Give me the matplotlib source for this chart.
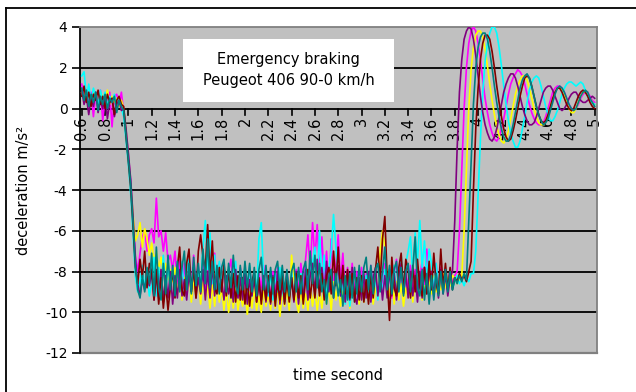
import numpy as np
import matplotlib
matplotlib.use("Agg")
import matplotlib.pyplot as plt
from matplotlib.patches import Rectangle
from matplotlib.lines import Line2D

plt.rcParams['font.family'] = ['DejaVu Sans']
plt.rcParams['axes.unicode_minus'] = False

# time grid (s), 0.6 .. 5.0 every 0.02 s
time_s = np.round(0.6 + 0.02 * np.arange(221), 2)

magenta = [
    1.2, 0.6, 0.9, 0.2, 0.8, -0.4, 0.7, 0.3, 0.9, -0.6,
    0.5, 0.1, 0.8, -0.9, 0.6, 0.7, 0.2, 0.8, -0.2, -1.1,
    -2.3, -3.6, -5.4, -7.2, -8.0, -7.1, -6.3, -6.0, -7.0, -6.2,
    -5.9, -6.6, -4.4, -6.3, -6.0, -7.0, -6.1, -7.5, -7.2, -7.9,
    -7.0, -8.6, -7.4, -8.9, -7.6, -9.0, -7.8, -8.7, -7.2, -8.8,
    -7.7, -9.0, -7.5, -8.8, -7.9, -9.2, -8.0, -7.1, -8.9, -7.6,
    -8.9, -7.7, -9.2, -8.0, -7.4, -9.0, -8.1, -9.3, -7.8, -8.8,
    -7.9, -9.2, -7.8, -9.0, -8.3, -9.4, -8.1, -8.8, -7.7, -9.1,
    -8.2, -9.3, -8.0, -9.1, -7.8, -9.0, -8.4, -9.4, -8.0, -9.2,
    -8.0, -9.2, -7.9, -9.0, -7.6, -8.8, -7.4, -6.2, -8.0, -5.6,
    -7.4, -5.7, -8.1, -6.3, -8.4, -7.0, -8.8, -6.4, -8.9, -7.7,
    -6.2, -8.5, -7.1, -9.0, -7.8, -8.9, -7.6, -9.1, -8.0, -9.2,
    -7.8, -9.3, -8.1, -9.0, -7.7, -8.9, -8.2, -9.2, -7.9, -8.8,
    -7.6, -9.1, -7.9, -9.3, -8.1, -7.4, -8.9, -7.8, -9.2, -8.0,
    -9.0, -7.7, -9.1, -7.9, -9.2, -8.3, -7.5, -8.9, -6.9, -8.6,
    -8.0, -8.8, -7.6, -9.0, -7.8, -8.7, -8.1, -8.9, -7.9, -8.6,
    -8.2, -8.0, -6.0, -3.0, 0.0, 2.0, 3.2, 3.8, 4.0, 3.8,
    3.2, 2.4, 1.4, 0.5, -0.2, -0.8, -1.2, -1.5, -1.6, -1.4,
    -1.0, -0.5, 0.1, 0.7, 1.2, 1.5, 1.7, 1.9, 1.8, 1.6,
    1.2, 0.7, 0.2, -0.2, -0.5, -0.7, -0.8, -0.8, -0.7, -0.4,
    0.0, 0.4, 0.8, 1.0, 1.1, 1.1, 1.0, 0.8, 0.5, 0.2,
    0.0, -0.1, 0.0, 0.2, 0.5, 0.7, 0.8, 0.8, 0.6, 0.4,
    0.3,
]

yellow = [
    0.8, 1.0, 0.4, 0.7, 0.2, 0.9, 0.5, 0.3, 0.8, 0.6,
    0.4, 0.9, 0.2, 0.6, 0.3, 0.5, 0.1, 0.4, 0.0, -1.1,
    -2.4, -3.8, -5.2, -6.5, -6.2, -5.6, -6.8, -5.9, -6.4, -7.2,
    -6.6, -7.5, -7.0, -7.9, -7.3, -8.2, -7.6, -8.4, -7.9, -8.5,
    -7.8, -9.2, -8.1, -9.4, -8.3, -9.0, -7.9, -9.5, -8.4, -9.3,
    -8.3, -9.6, -8.5, -9.4, -8.7, -9.8, -8.6, -9.7, -8.4, -9.5,
    -8.8, -9.9, -8.9, -10.0, -9.0, -9.8, -8.7, -9.9, -9.1, -9.7,
    -8.9, -10.1, -9.0, -9.8, -8.8, -9.9, -9.2, -10.0, -8.9, -9.7,
    -9.1, -9.9, -8.7, -9.8, -8.6, -10.2, -9.0, -9.7, -8.8, -9.9,
    -7.2, -8.4, -9.5, -10.0, -8.9, -9.8, -9.1, -9.9, -8.8, -9.7,
    -8.9, -9.9, -9.0, -9.8, -8.7, -9.6, -8.8, -9.9, -8.5, -9.4,
    -8.6, -9.7, -8.9, -9.5, -8.4, -9.8, -8.7, -9.3, -8.5, -9.6,
    -8.4, -9.5, -8.6, -9.4, -8.2, -9.6, -8.8, -9.3, -7.0, -6.0,
    -6.8, -8.5, -9.2, -8.3, -9.6, -8.5, -9.4, -8.6, -9.7, -8.8,
    -9.3, -8.3, -9.5, -8.6, -9.2, -8.4, -9.4, -8.7, -9.0, -8.3,
    -9.1, -8.2, -9.0, -8.4, -8.9, -8.1, -8.8, -8.3, -8.7, -8.2,
    -8.3, -8.6, -8.4, -8.2, -6.0, -3.0, 0.0, 1.9, 3.0, 3.6,
    3.8, 3.8, 3.5, 2.9, 2.1, 1.2, 0.4, -0.3, -0.9, -1.3,
    -1.6, -1.7, -1.5, -1.1, -0.5, 0.1, 0.7, 1.1, 1.4, 1.6,
    1.6, 1.4, 1.0, 0.5, 0.0, -0.4, -0.7, -0.8, -0.8, -0.6,
    -0.3, 0.1, 0.5, 0.8, 1.0, 1.0, 0.9, 0.6, 0.3, 0.0,
    -0.2, -0.2, 0.0, 0.3, 0.6, 0.8, 0.8, 0.7, 0.5, 0.3,
    0.2,
]

cyan = [
    1.6, 1.8, 0.5, 1.2, 0.3, 1.0, 0.6, 0.2, 0.9, 0.4,
    0.8, 0.1, 0.6, 0.3, 0.7, 0.2, 0.5, 0.0, -0.4, -1.6,
    -2.8, -4.2, -6.2, -8.2, -9.0, -8.5, -7.7, -8.8, -8.1, -9.2,
    -8.6, -7.3, -9.2, -7.8, -8.9, -7.2, -9.0, -7.6, -8.8, -7.9,
    -9.0, -7.8, -8.8, -7.5, -9.1, -8.0, -7.4, -8.9, -7.7, -9.0,
    -7.9, -8.7, -6.8, -5.5, -7.9, -6.1, -8.6, -7.2, -8.9, -7.5,
    -8.8, -7.6, -9.1, -7.8, -9.3, -8.0, -7.5, -9.0, -7.9, -8.7,
    -7.8, -9.0, -7.7, -9.2, -8.0, -9.1, -6.4, -5.6, -8.3, -9.0,
    -9.2, -8.0, -9.4, -8.1, -9.0, -7.8, -8.9, -9.5, -8.2, -9.1,
    -8.0, -9.3, -8.2, -9.4, -8.1, -9.0, -7.9, -9.1, -8.0, -7.6,
    -6.8, -8.8, -6.0, -8.6, -7.2, -9.1, -7.9, -7.0, -5.2, -6.8,
    -8.2, -9.2, -8.6, -9.6, -8.8, -9.7, -8.9, -9.5, -8.7, -9.3,
    -8.5, -9.4, -8.2, -9.2, -8.0, -9.0, -8.3, -9.4, -8.1, -9.1,
    -7.9, -9.0, -7.8, -9.1, -7.7, -9.2, -8.0, -7.2, -8.8, -7.6,
    -7.0, -6.3, -8.2, -6.1, -7.5, -5.5, -7.8, -6.5, -8.4, -6.9,
    -7.6, -8.9, -7.6, -8.8, -8.0, -9.0, -7.9, -8.8, -8.2, -8.9,
    -8.5, -8.2, -8.6, -8.4, -8.7, -8.3, -8.5, -8.1, -8.1, -7.0,
    -4.3, -1.5, 0.8, 2.3, 3.2, 3.7, 4.0, 4.0, 3.7, 3.0,
    2.1, 1.1, 0.2, -0.6, -1.2, -1.6, -1.9, -1.9, -1.6, -1.0,
    -0.4, 0.3, 0.9, 1.3, 1.5, 1.6, 1.5, 1.1, 0.6, 0.1,
    -0.3, -0.6, -0.6, -0.4, -0.1, 0.3, 0.7, 1.0, 1.2, 1.3,
    1.3, 1.2, 1.1, 1.2, 1.3, 1.2, 0.9, 0.6, 0.4, 0.3,
    0.2,
]

purple = [
    0.9, 0.2, 0.6, -0.3, 0.5, 0.1, 0.8, -0.2, 0.4, 0.0,
    0.6, -0.5, 0.3, 0.5, -0.4, 0.2, 0.4, -0.1, 0.0, -1.0,
    -2.2, -3.5, -5.3, -7.4, -8.6, -9.2, -8.4, -8.9, -8.1, -8.7,
    -8.0, -9.4, -8.1, -9.3, -7.9, -9.5, -8.2, -9.3, -8.0, -9.6,
    -8.2, -9.3, -7.9, -9.2, -8.4, -9.4, -8.1, -9.0, -7.8, -9.3,
    -8.3, -9.1, -7.9, -9.4, -8.0, -9.3, -7.7, -9.2, -8.1, -9.0,
    -8.4, -9.4, -8.2, -9.1, -8.5, -9.5, -7.9, -9.3, -8.3, -9.4,
    -8.1, -9.6, -8.4, -9.2, -8.3, -9.5, -8.6, -9.4, -8.2, -9.5,
    -8.4, -9.6, -8.2, -9.4, -8.0, -9.6, -8.5, -9.5, -8.1, -9.3,
    -8.3, -9.5, -8.0, -9.6, -8.4, -9.3, -7.9, -9.4, -8.2, -7.6,
    -9.1, -7.4, -8.9, -7.8, -9.2, -7.5, -9.0, -7.9, -9.3, -8.1,
    -7.7, -9.2, -8.1, -9.5, -8.2, -9.4, -7.8, -9.2, -9.6, -8.3,
    -9.4, -8.1, -9.3, -8.0, -9.5, -8.3, -7.8, -9.2, -8.1, -9.4,
    -8.2, -9.3, -7.9, -9.2, -8.1, -9.4, -8.3, -7.6, -9.1, -8.1,
    -9.3, -8.0, -9.2, -8.2, -9.5, -8.0, -9.3, -7.8, -9.1, -8.2,
    -8.0, -9.2, -8.1, -9.3, -7.9, -9.1, -8.1, -9.2, -8.3, -8.0,
    -5.5, -2.0, 0.8, 2.4, 3.4, 3.8, 4.0, 3.9, 3.4, 2.6,
    1.6, 0.6, -0.2, -0.8, -1.2, -1.5, -1.6, -1.4, -1.0, -0.4,
    0.2, 0.8, 1.2, 1.5, 1.7, 1.7, 1.5, 1.1, 0.6, 0.1,
    -0.3, -0.6, -0.8, -0.8, -0.7, -0.4, 0.0, 0.4, 0.8, 1.0,
    1.1, 1.1, 0.9, 0.6, 0.3, 0.0, -0.1, 0.0, 0.2, 0.5,
    0.7, 0.8, 0.8, 0.6, 0.4, 0.3, 0.3, 0.4, 0.5, 0.6,
    0.5,
]

darkred = [
    0.6, 1.1, 0.3, 0.8, 0.1, 0.7, 0.4, 0.9, 0.2, 0.6,
    0.0, 0.7, 0.3, 0.5, -0.3, 0.4, 0.6, 0.2, 0.1, -1.4,
    -2.6, -3.9, -5.8, -7.8, -8.6, -7.4, -8.3, -7.0, -8.8, -7.6,
    -8.0, -9.4, -7.9, -9.6, -8.3, -9.8, -8.6, -9.9, -8.8, -8.0,
    -9.3, -7.8, -6.8, -8.9, -9.2, -7.6, -6.9, -9.0, -7.8, -9.3,
    -7.0, -6.2, -7.3, -7.9, -5.7, -8.2, -6.5, -8.8, -9.1, -7.8,
    -9.0, -7.6, -9.2, -7.9, -9.3, -8.1, -9.5, -8.2, -9.4, -8.3,
    -9.6, -8.4, -9.7, -8.5, -8.0, -9.5, -8.3, -9.6, -8.4, -9.4,
    -8.2, -9.5, -8.3, -9.7, -8.5, -9.4, -8.1, -9.6, -8.4, -9.5,
    -8.3, -9.4, -8.1, -9.3, -8.2, -9.6, -8.4, -7.9, -9.3, -8.2,
    -9.3, -8.0, -9.2, -8.1, -9.4, -8.2, -7.8, -9.1, -7.0, -8.7,
    -6.8, -9.0, -7.7, -9.1, -7.9, -9.3, -8.1, -9.5, -8.3, -9.4,
    -8.2, -9.5, -8.4, -9.6, -8.1, -9.3, -7.9, -6.8, -8.5, -6.4,
    -5.3, -8.3, -10.4, -7.3, -8.8, -9.2, -7.8, -7.1, -9.0, -7.4,
    -7.9, -9.3, -7.7, -9.0, -7.4, -8.8, -9.2, -7.8, -9.1, -7.5,
    -8.9, -7.1, -8.6, -9.1, -6.9, -8.8, -7.6, -8.9, -7.8, -8.9,
    -8.3, -8.5, -8.1, -8.4, -8.2, -8.5, -8.0, -7.5, -4.0, -1.0,
    1.0, 2.4, 3.2, 3.6, 3.6, 3.4, 2.8, 2.0, 1.1, 0.3,
    -0.4, -1.0, -1.4, -1.6, -1.5, -1.1, -0.6, 0.0, 0.6, 1.1,
    1.5, 1.6, 1.5, 1.1, 0.6, 0.1, -0.3, -0.6, -0.7, -0.6,
    -0.3, 0.1, 0.5, 0.8, 1.0, 1.0, 0.8, 0.5, 0.2, 0.0,
    -0.1, 0.0, 0.3, 0.6, 0.8, 0.9, 0.8, 0.6, 0.3, 0.1,
    0.0,
]

teal = [
    1.0, 0.4, 0.9, 0.1, 0.7, 0.3, 0.8, -0.1, 0.6, 0.2,
    0.7, 0.0, 0.5, 0.3, 0.6, -0.2, 0.4, 0.1, -0.1, -1.3,
    -2.5, -3.7, -5.6, -7.6, -8.9, -9.3, -8.2, -9.0, -7.8, -8.6,
    -7.1, -9.2, -6.8, -8.8, -9.4, -7.6, -9.1, -7.2, -8.9, -7.7,
    -9.2, -7.5, -9.0, -7.8, -7.0, -8.9, -7.6, -9.1, -7.3, -8.7,
    -7.6, -9.0, -6.9, -8.6, -6.4, -8.8, -7.5, -8.9, -7.7, -9.1,
    -7.8, -7.4, -9.0, -7.6, -8.8, -7.2, -8.7, -9.1, -7.7, -8.9,
    -7.5, -8.8, -7.6, -9.0, -7.8, -9.2, -7.9, -7.3, -8.9, -7.7,
    -9.0, -7.8, -9.1, -7.9, -7.5, -8.9, -7.7, -9.0, -7.9, -9.2,
    -8.0, -7.6, -9.0, -7.8, -9.1, -7.9, -7.5, -8.9, -7.0, -8.6,
    -7.2, -8.8, -7.6, -9.0, -8.4, -9.6, -8.3, -7.9, -9.3, -8.1,
    -9.2, -8.4, -9.7, -8.2, -9.4, -8.1, -9.3, -7.8, -9.1, -7.7,
    -9.0, -7.8, -7.3, -8.9, -7.7, -9.1, -7.9, -7.6, -9.0, -8.0,
    -6.8, -8.9, -7.7, -9.1, -7.9, -7.5, -9.0, -7.8, -9.2, -8.0,
    -7.6, -9.0, -7.9, -6.3, -8.8, -9.2, -7.9, -9.4, -8.1, -9.6,
    -8.2, -9.4, -8.1, -9.2, -8.0, -9.1, -7.9, -9.0, -8.0, -8.9,
    -8.3, -8.6, -8.2, -8.5, -8.1, -8.4, -5.5, -2.5, 0.2, 2.0,
    3.0, 3.5, 3.7, 3.7, 3.4, 2.8, 2.0, 1.1, 0.3, -0.4,
    -1.0, -1.4, -1.6, -1.6, -1.3, -0.8, -0.2, 0.4, 1.0, 1.4,
    1.6, 1.7, 1.5, 1.1, 0.6, 0.1, -0.3, -0.6, -0.8, -0.7,
    -0.5, -0.1, 0.3, 0.7, 1.0, 1.1, 1.0, 0.8, 0.5, 0.2,
    0.0, -0.1, 0.0, 0.3, 0.6, 0.8, 0.9, 0.8, 0.5, 0.3,
    0.1,
]

series = [
    (magenta, '#FF00FF'),
    (yellow, '#FFFF00'),
    (cyan, '#00FFFF'),
    (purple, '#800080'),
    (darkred, '#800000'),
    (teal, '#008080'),
]

x_tick_values = [0.6, 0.8, 1.0, 1.2, 1.4, 1.6, 1.8, 2.0, 2.2, 2.4, 2.6, 2.8,
                 3.0, 3.2, 3.4, 3.6, 3.8, 4.0, 4.2, 4.4, 4.6, 4.8, 5.0]
x_tick_labels = ['0.6', '0.8', '1', '1.2', '1.4', '1.6', '1.8', '2', '2.2', '2.4',
                 '2.6', '2.8', '3', '3.2', '3.4', '3.6', '3.8', '4', '4.2', '4.4',
                 '4.6', '4.8', '5']
y_tick_values = [4, 2, 0, -2, -4, -6, -8, -10, -12]

W, H = 636, 392
fig = plt.figure(figsize=(W / 100, H / 100), dpi=100)
fig.patch.set_facecolor('white')
ax = fig.add_axes([80 / W, 1 - 353 / H, (597 - 80) / W, (353 - 27) / H])
ax.set_facecolor('#C0C0C0')

for vals, col in series:
    ax.plot(time_s, vals, color=col, lw=1.2, zorder=3, clip_on=True)

ax.set_xlim(0.585, 5.02)
ax.set_ylim(-12, 4)

# horizontal gridlines
for yv in [2, -2, -4, -6, -8, -10]:
    ax.axhline(yv, color='black', lw=1.3, zorder=1.5)

for side in ['top', 'right']:
    ax.spines[side].set_color('#808080')
    ax.spines[side].set_linewidth(1.3)
ax.spines['left'].set_color('black')
ax.spines['left'].set_linewidth(1.3)
ax.spines['bottom'].set_visible(False)
ax.axhline(-12, color='#808080', lw=1.6, zorder=2.5, clip_on=False)
ax.axhline(0, color='black', lw=1.3, zorder=2.5)

ax.set_yticks(y_tick_values)
ax.set_yticklabels([str(v) for v in y_tick_values], fontsize=10)
ax.tick_params(axis='y', direction='out', length=6, width=1.2, color='black', pad=3)

ax.set_xticks([])
ax.xaxis.set_ticks_position('none')
for tv, tl in zip(x_tick_values, x_tick_labels):
    ax.plot([tv, tv], [0, -0.3], color='black', lw=1.2, zorder=2.5, clip_on=False)
    ax.text(tv, -0.4, tl, rotation=90, ha='center', va='top', fontsize=10.5,
            zorder=1.6, color='black')

ax.set_ylabel('deceleration m/s²', fontsize=10.5, labelpad=10)
fig.text(338 / W, 1 - 375 / H, 'time second', ha='center', va='center', fontsize=10.5)

ax.add_patch(Rectangle((183 / W, 1 - 102 / H), 211 / W, 63 / H, transform=fig.transFigure,
                       facecolor='white', edgecolor='none', zorder=2.6, clip_on=False))
ax.text(288.5 / W, 1 - 70 / H, 'Emergency braking\nPeugeot 406 90-0 km/h',
        transform=fig.transFigure, ha='center', va='center', fontsize=10.5,
        linespacing=1.45, zorder=2.7)

fig.add_artist(Line2D([6 / W, 6 / W], [0, 1 - 8 / H], color='black', lw=1.3))
fig.add_artist(Line2D([6 / W, 1], [1 - 8 / H, 1 - 8 / H], color='black', lw=1.3))

fig.savefig('out.png', dpi=100)
